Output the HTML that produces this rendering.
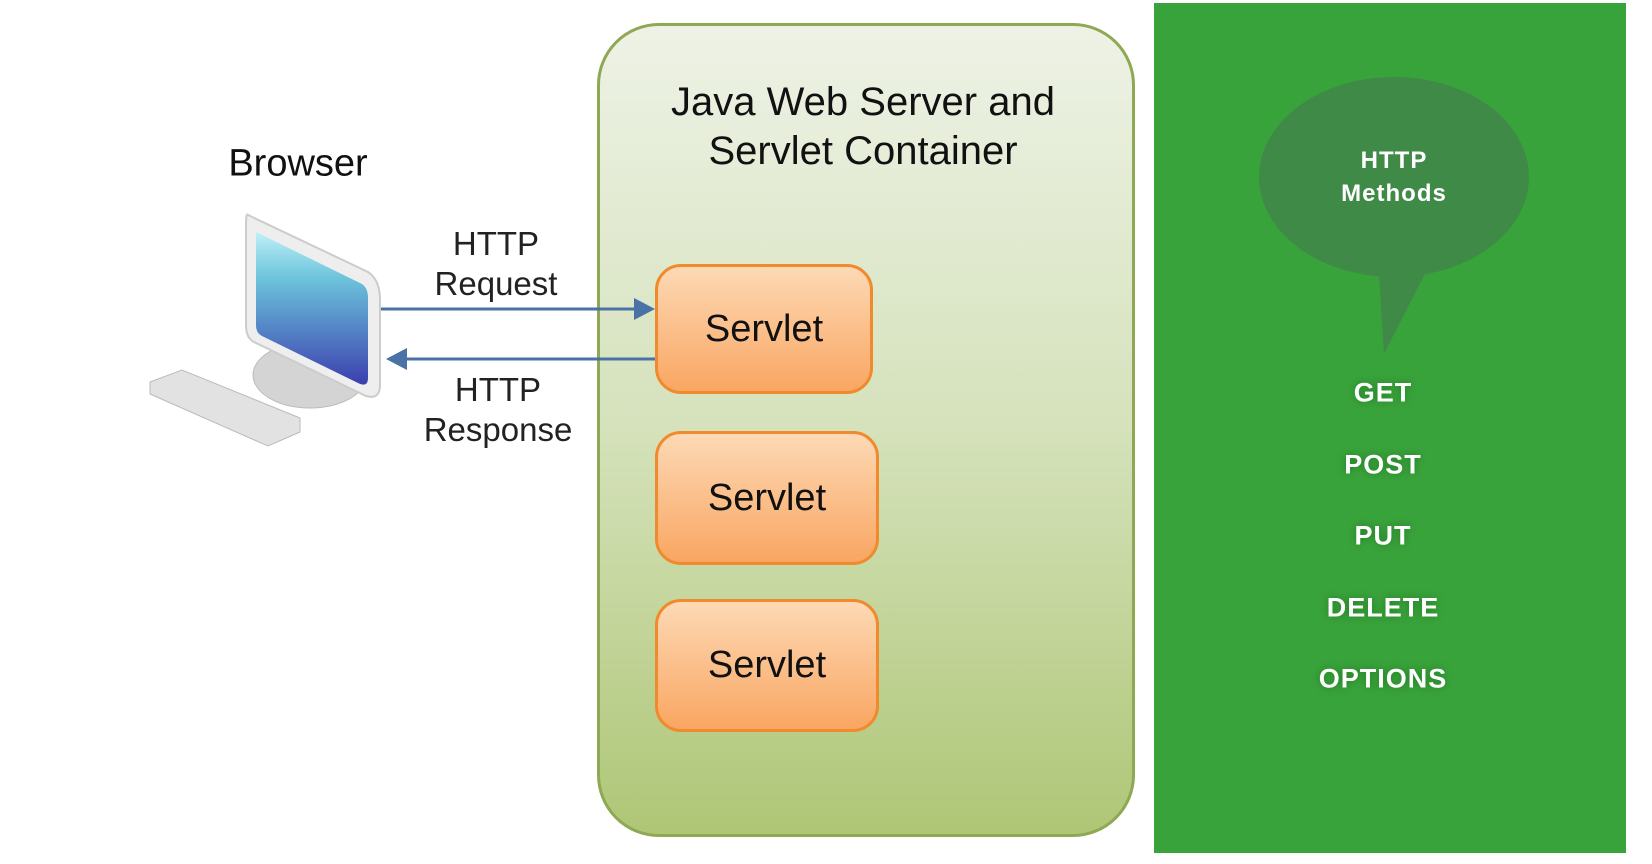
<!DOCTYPE html>
<html><head><meta charset="utf-8"><style>
body{margin:0;width:1652px;height:864px;background:#fff;position:relative;overflow:hidden;font-family:"Liberation Sans",sans-serif}
.t{position:absolute;transform:translate(-50%,-50%);white-space:nowrap;text-align:center}
.sv{position:absolute;border:3px solid #f08a2c;border-radius:26px;background:linear-gradient(#fdd9b5,#f9a662);box-sizing:border-box;display:flex;align-items:center;justify-content:center;font-size:38px;color:#111}
.m{position:absolute;left:1383px;transform:translate(-50%,-50%);color:#fff;font-size:27px;font-weight:bold;letter-spacing:1px;text-shadow:0 0 8px rgba(0,60,0,.4)}
</style></head><body>
<div style="position:absolute;left:1154px;top:3px;width:472px;height:850px;background:#39a33b"></div>
<div style="position:absolute;left:597px;top:23px;width:538px;height:814px;border:3px solid #8fa854;border-radius:62px;box-sizing:border-box;background:linear-gradient(#eef2e6,#d5e2bb 50%,#afc676)"></div>
<div class="t" style="left:863px;top:127px;font-size:40px;line-height:49px;color:#111">Java Web Server and<br>Servlet Container</div>
<div class="sv" style="left:655px;top:264px;width:218px;height:130px">Servlet</div>
<div class="sv" style="left:655px;top:431px;width:224px;height:134px">Servlet</div>
<div class="sv" style="left:655px;top:599px;width:224px;height:133px">Servlet</div>
<div class="t" style="left:298px;top:164px;font-size:38px;color:#111">Browser</div>
<div class="t" style="left:496px;top:264px;font-size:33px;line-height:40px;color:#222">HTTP<br>Request</div>
<div class="t" style="left:498px;top:410px;font-size:33px;line-height:40px;color:#222">HTTP<br>Response</div>
<svg width="1652" height="864" style="position:absolute;left:0;top:0">
<defs><linearGradient id="sc" x1="0" y1="0" x2="0" y2="1"><stop offset="0" stop-color="#bff0f8"/><stop offset=".3" stop-color="#6cc4dc"/><stop offset="1" stop-color="#3b3fae"/></linearGradient></defs>
<line x1="378" y1="309" x2="640" y2="309" stroke="#4a72a6" stroke-width="3"/>
<polygon points="655,309 634,298 634,320" fill="#4a72a6"/>
<line x1="400" y1="359" x2="655" y2="359" stroke="#4a72a6" stroke-width="3"/>
<polygon points="386,359 407,348 407,370" fill="#4a72a6"/>
<ellipse cx="310" cy="375" rx="57" ry="33" fill="#d4d4d4" stroke="#bbb"/>
<path d="M248,215 L368,272 Q380,280 380,300 L380,385 Q380,400 366,396 L254,342 Q246,338 246,325 L246,225 Q246,212 248,215Z" fill="#eee" stroke="#ccc" stroke-width="2"/>
<path d="M256,232 L362,284 Q368,288 368,298 L368,378 Q368,388 358,383 L262,336 Q256,333 256,325Z" fill="url(#sc)"/>
<path d="M150,382 L182,370 L300,418 L300,432 L268,446 L150,394Z" fill="#e2e2e2" stroke="#bbb"/>
<ellipse cx="1394" cy="177" rx="135" ry="100" fill="#3f8a47"/>
<polygon points="1378,260 1432,260 1384,354" fill="#3f8a47"/>
</svg>
<div class="t" style="left:1394px;top:177px;font-size:24px;line-height:33px;color:#fff;font-weight:bold;letter-spacing:1px">HTTP<br>Methods</div>
<div class="m" style="top:393px">GET</div>
<div class="m" style="top:465px">POST</div>
<div class="m" style="top:536px">PUT</div>
<div class="m" style="top:608px">DELETE</div>
<div class="m" style="top:679px">OPTIONS</div>
</body></html>
